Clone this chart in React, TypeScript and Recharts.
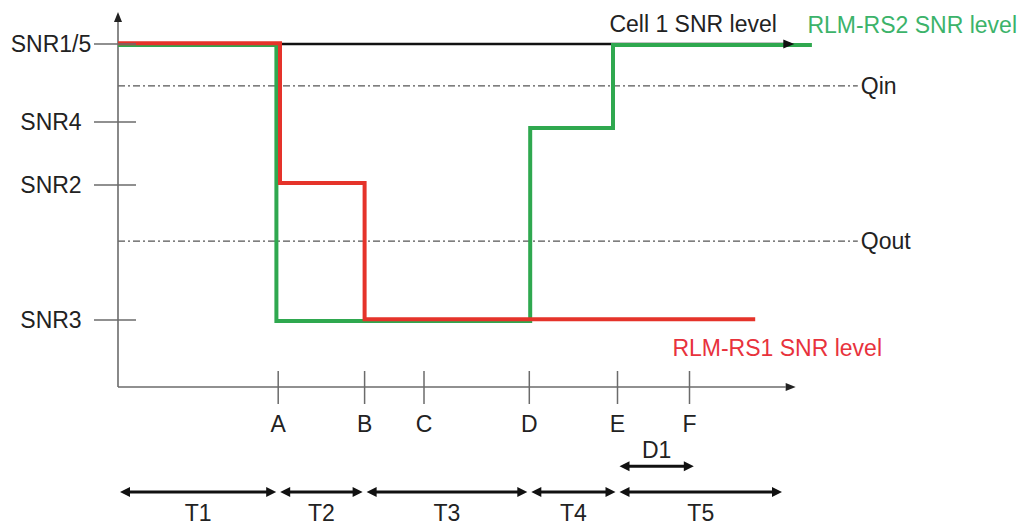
import React from "react";
import { LineChart, Line, XAxis, YAxis, ReferenceLine, ReferenceDot } from "recharts";

const FONT = '"Liberation Sans", Arial, sans-serif';
const TEXT = "#222";
const AXIS = "#6b6b6b";
const GREEN = "#2fa84f";
const RED = "#e5332a";

// time marks on the x axis
const xTickValues = [17.8, 27.4, 34.0, 45.7, 55.5, 63.5];
const xTickLabels = ["A", "B", "C", "D", "E", "F"];

// SNR levels on the y axis
const yTickValues = [9.15, 7.07, 5.39, 1.79];
const yTickLabels = ["SNR1/5", "SNR4", "SNR2", "SNR3"];

// step series (stepAfter)
const cell1 = [
  { x: 0, y: 9.15 },
  { x: 74.7, y: 9.15 },
];
const rlmRs2 = [
  { x: 0, y: 9.12 },
  { x: 17.6, y: 1.76 },
  { x: 45.8, y: 6.91 },
  { x: 55.0, y: 9.12 },
  { x: 77.1, y: 9.12 },
];
const rlmRs1 = [
  { x: 0, y: 9.17 },
  { x: 18.0, y: 5.44 },
  { x: 27.4, y: 1.81 },
  { x: 70.8, y: 1.81 },
];

// thresholds
const thresholds = [
  { name: "Qin", y: 8.03 },
  { name: "Qout", y: 3.89 },
];
const thresholdEnd = 82.2;

// periods under the axis
const periods = [
  { label: "T1", from: 0, to: 17.8 },
  { label: "T2", from: 17.8, to: 27.4 },
  { label: "T3", from: 27.4, to: 45.7 },
  { label: "T4", from: 45.7, to: 55.5 },
  { label: "T5", from: 55.5, to: 74.0 },
];
const d1 = { label: "D1", from: 55.5, to: 64.2 };

const seriesNotes = [
  { text: "Cell 1 SNR level", x: 54.6, y: 9.68, color: TEXT },
  { text: "RLM-RS2 SNR level", x: 76.6, y: 9.65, color: "#3cb36a" },
  { text: "RLM-RS1 SNR level", x: 61.6, y: 1.04, color: "#e8323c" },
];

const PERIOD_Y = -2.8;
const D1_Y = -2.11;

function YTick(props: any) {
  const { x, y, payload } = props;
  const i = yTickValues.indexOf(payload.value);
  return (
    <g>
      <line x1={x - 24} x2={x + 18} y1={y} y2={y} stroke={AXIS} strokeWidth={1.5} />
      <text x={x - 67} y={y} textAnchor="middle" dominantBaseline="central" fontFamily={FONT} fontSize={23} fill={TEXT}>
        {yTickLabels[i]}
      </text>
    </g>
  );
}

function XTick(props: any) {
  const { x, y, payload } = props;
  const i = xTickValues.indexOf(payload.value);
  return (
    <g>
      <line x1={x} x2={x} y1={y - 16} y2={y + 17} stroke={AXIS} strokeWidth={1.5} />
      <text x={x} y={y + 37} textAnchor="middle" dominantBaseline="central" fontFamily={FONT} fontSize={23} fill={TEXT}>
        {xTickLabels[i]}
      </text>
    </g>
  );
}

function AxisArrow(props: any) {
  const { x1, y1, x2, y2 } = props;
  const len = Math.hypot(x2 - x1, y2 - y1) || 1;
  const ux = (x2 - x1) / len;
  const uy = (y2 - y1) / len;
  const bx = x2 - ux * 10;
  const by = y2 - uy * 10;
  return (
    <g>
      <line x1={x1} y1={y1} x2={bx} y2={by} stroke={AXIS} strokeWidth={1.6} />
      <polygon
        points={`${x2},${y2} ${bx - uy * 4},${by + ux * 4} ${bx + uy * 4},${by - ux * 4}`}
        fill="#222"
      />
    </g>
  );
}

function DoubleArrow(props: any) {
  const { x1, x2, y1, text, labelDy } = props;
  const a = Math.min(x1, x2) + 2;
  const b = Math.max(x1, x2) - 2;
  const y = y1;
  return (
    <g>
      <line x1={a + 6} x2={b - 6} y1={y} y2={y} stroke="#111" strokeWidth={3} />
      <polygon points={`${a},${y} ${a + 10},${y - 5} ${a + 10},${y + 5}`} fill="#111" />
      <polygon points={`${b},${y} ${b - 10},${y - 5} ${b - 10},${y + 5}`} fill="#111" />
      <text x={(a + b) / 2} y={y + labelDy} textAnchor="middle" dominantBaseline="central" fontFamily={FONT} fontSize={23} fill={TEXT}>
        {text}
      </text>
    </g>
  );
}

function CellArrowDot(props: any) {
  const { cx, cy, index } = props;
  if (index !== cell1.length - 1) return <g key={`d-${index}`} />;
  return <polygon key={`d-${index}`} points={`${cx + 4},${cy} ${cx - 7},${cy - 4.5} ${cx - 7},${cy + 4.5}`} fill="#111" />;
}

export default function App() {
  return (
    <LineChart width={1026} height={521} margin={{ top: 4, right: 16, bottom: 102, left: 0 }}>
      <XAxis
        type="number"
        dataKey="x"
        domain={[0, 100]}
        ticks={xTickValues}
        interval={0}
        axisLine={false}
        tickLine={false}
        tickSize={0}
        tickMargin={0}
        height={40}
        tick={<XTick />}
      />
      <YAxis
        type="number"
        dataKey="y"
        domain={[0, 10]}
        ticks={yTickValues}
        interval={0}
        axisLine={false}
        tickLine={false}
        tickSize={0}
        tickMargin={0}
        width={110}
        tick={<YTick />}
      />

      {thresholds.map((t) => (
        <ReferenceLine
          key={t.name}
          segment={[{ x: 0, y: t.y }, { x: thresholdEnd, y: t.y }]}
          stroke="#555"
          strokeWidth={1.2}
          strokeDasharray="7 3 2 3"
          label={{ value: t.name, position: "right", offset: 3, fill: TEXT, fontSize: 23, fontFamily: FONT }}
        />
      ))}

      <ReferenceLine segment={[{ x: 0, y: 0 }, { x: 0, y: 10 }]} shape={(p: any) => <AxisArrow {...p} />} />
      <ReferenceLine segment={[{ x: 0, y: 0 }, { x: 75.3, y: 0 }]} shape={(p: any) => <AxisArrow {...p} />} />

      <Line
        data={cell1}
        dataKey="y"
        type="linear"
        stroke="#111"
        strokeWidth={2.5}
        dot={(p: any) => <CellArrowDot {...p} />}
        activeDot={false}
        isAnimationActive={false}
      />
      <Line
        data={rlmRs2}
        dataKey="y"
        type="stepAfter"
        stroke={GREEN}
        strokeWidth={4}
        dot={false}
        activeDot={false}
        isAnimationActive={false}
      />
      <Line
        data={rlmRs1}
        dataKey="y"
        type="stepAfter"
        stroke={RED}
        strokeWidth={4}
        dot={false}
        activeDot={false}
        isAnimationActive={false}
      />

      {periods.map((p) => (
        <ReferenceLine
          key={p.label}
          segment={[{ x: p.from, y: PERIOD_Y }, { x: p.to, y: PERIOD_Y }]}
          ifOverflow="visible"
          shape={(s: any) => <DoubleArrow {...s} text={p.label} labelDy={21} />}
        />
      ))}
      <ReferenceLine
        segment={[{ x: d1.from, y: D1_Y }, { x: d1.to, y: D1_Y }]}
        ifOverflow="visible"
        shape={(s: any) => <DoubleArrow {...s} text={d1.label} labelDy={-16} />}
      />

      {seriesNotes.map((n) => (
        <ReferenceDot
          key={n.text}
          x={n.x}
          y={n.y}
          r={0}
          shape={(s: any) => (
            <text x={s.cx} y={s.cy} textAnchor="start" dominantBaseline="central" fontFamily={FONT} fontSize={23} fill={n.color}>
              {n.text}
            </text>
          )}
        />
      ))}
    </LineChart>
  );
}
